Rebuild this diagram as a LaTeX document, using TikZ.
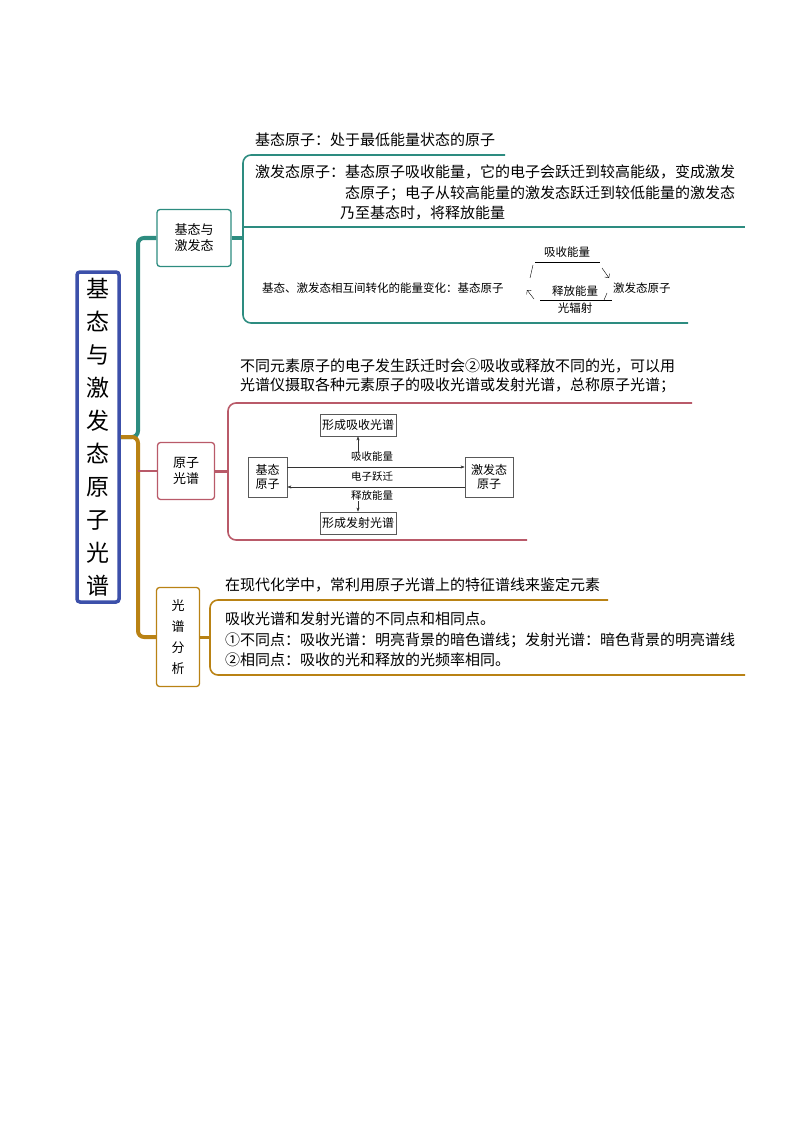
\documentclass[tikz,border=0pt]{standalone}
\usepackage{fontspec}
\setmainfont{Noto Sans CJK SC}
\usetikzlibrary{positioning,arrows.meta}
\definecolor{teal1}{RGB}{45,140,128}
\definecolor{rose1}{RGB}{185,90,105}
\definecolor{gold1}{RGB}{185,130,20}
\definecolor{blue1}{RGB}{60,80,170}
\begin{document}
\begin{tikzpicture}[x=1pt,y=-1pt,
    branch/.style={draw, rounded corners=3pt, line width=1.3pt, align=center, inner sep=3pt, font=\fontsize{13}{16}\selectfont},
    leaf/.style={anchor=west, font=\fontsize{15}{20}\selectfont, inner sep=0pt},
    small/.style={font=\fontsize{11.5}{13}\selectfont, inner sep=0pt},
    sbox/.style={draw=gray!70!black, thick, align=center, inner sep=2pt, font=\fontsize{12}{14}\selectfont},
    line/.style={line width=1.6pt, rounded corners=8pt},
    arr/.style={-{Stealth[length=4pt]}, gray!40!black}
]
\useasboundingbox (0,0) rectangle (794,1123);

% Root
\node[draw=blue1, line width=3.5pt, rounded corners=3pt, minimum width=42pt, minimum height=330pt, align=center, font=\fontsize{23}{33}\selectfont] (root) at (98,437) {基\\态\\与\\激\\发\\态\\原\\子\\光\\谱};

% Branches
\node[branch, draw=teal1, minimum width=74pt, minimum height=57pt] (state) at (194,238) {基态与\\激发态};
\node[branch, draw=rose1, minimum width=57pt, minimum height=57pt] (spec) at (186,471) {原子\\光谱};
\node[branch, draw=gold1, minimum width=43pt, minimum height=99pt, font=\fontsize{13}{21}\selectfont] (anal) at (178,637) {光\\谱\\分\\析};

\draw[teal1, line width=4pt, rounded corners=6pt] (root.east |- 0,437) -- (138,437) -- (138,238) -- (state.west);
\draw[gold1, line width=4pt, rounded corners=6pt] (root.east |- 0,437) -- (138,437) -- (138,637) -- (anal.west);
\draw[rose1, line width=2pt] (138,471) -- (spec.west);

% Brackets of first branch
\draw[teal1, line width=3pt] (state.east) -- (243,238);
\draw[teal1, line] (505,155) -- (243,155) -- (243,323) -- (688,323);
\draw[teal1, line width=1.6pt] (243,227) -- (745,227);

\node[leaf] (ground) at (255,140) {基态原子：处于最低能量状态的原子};
\node[leaf] (excit1) at (255,172) {激发态原子：基态原子吸收能量，它的电子会跃迁到较高能级，变成激发};
\node[leaf] (excit2) at (345,193) {态原子；电子从较高能量的激发态跃迁到较低能量的激发态};
\node[leaf] (excit3) at (340,213) {乃至基态时，将释放能量};

\node[small, anchor=west] (conv) at (262,288) {基态、激发态相互间转化的能量变化：基态原子};
\node[small] (absorb) at (567,252) {吸收能量};
\node[small] (release) at (575,291) {释放能量};
\node[small] (radiat) at (575,308) {光辐射};
\node[small, anchor=west] (exstate) at (613,288) {激发态原子};
\coordinate (ul1) at (535,262); \coordinate (ur1) at (600,262);
\coordinate (ul2) at (540,300); \coordinate (ur2) at (612,300);
\draw (ul1) -- (ur1);
\draw (ul2) -- (ur2);
\draw (530,278) -- (533,265);
\draw[-{Straight Barb[length=3pt]}] (602,268) -- (609,278);
\draw[-{Straight Barb[length=3pt]}] (534,299) -- (527,290);
\draw (604,300) -- (607,293);

% Brackets of second branch
\draw[rose1, line width=3pt] (spec.east) -- (228,471);
\draw[rose1, line] (692,403) -- (228,403) -- (228,540) -- (527,540);
\node[leaf] (specA) at (240,366) {不同元素原子的电子发生跃迁时会②吸收或释放不同的光，可以用};
\node[leaf] (specB) at (240,385) {光谱仪摄取各种元素原子的吸收光谱或发射光谱，总称原子光谱；};

\node[sbox, minimum width=39pt, minimum height=40pt] (gnd) at (267.5,477) {基态\\原子};
\node[sbox, minimum width=48pt, minimum height=40pt] (exc) at (489,477) {激发态\\原子};
\node[sbox, minimum width=64pt, minimum height=22pt] (absp) at (358,425) {形成吸收光谱};
\node[sbox, minimum width=64pt, minimum height=22pt] (emsp) at (358,523) {形成发射光谱};
\draw[arr] (gnd.east |- 0,467) -- (exc.west |- 0,467);
\draw[arr] (exc.west |- 0,487) -- (gnd.east |- 0,487);
\node[small, font=\fontsize{10.5}{12}\selectfont] (lab1) at (372,457) {吸收能量};
\node[small, font=\fontsize{10.5}{12}\selectfont] (lab2) at (372,477) {电子跃迁};
\node[small, font=\fontsize{10.5}{12}\selectfont] (lab3) at (372,496) {释放能量};
\draw[arr] (lab1.north -| absp) -- (absp.south);
\draw[arr] (lab3.south -| emsp) -- (emsp.north);

% Brackets of third branch
\draw[gold1, line width=3pt] (anal.east) -- (210,637);
\draw[gold1, line] (608,600) -- (210,600) -- (210,675) -- (745,675);
\node[leaf] (anA) at (225,585) {在现代化学中，常利用原子光谱上的特征谱线来鉴定元素};
\node[leaf] (anB) at (225,619) {吸收光谱和发射光谱的不同点和相同点。};
\node[leaf] (anC) at (225,640) {①不同点：吸收光谱：明亮背景的暗色谱线；发射光谱：暗色背景的明亮谱线};
\node[leaf] (anD) at (225,660) {②相同点：吸收的光和释放的光频率相同。};
\end{tikzpicture}
\end{document}
